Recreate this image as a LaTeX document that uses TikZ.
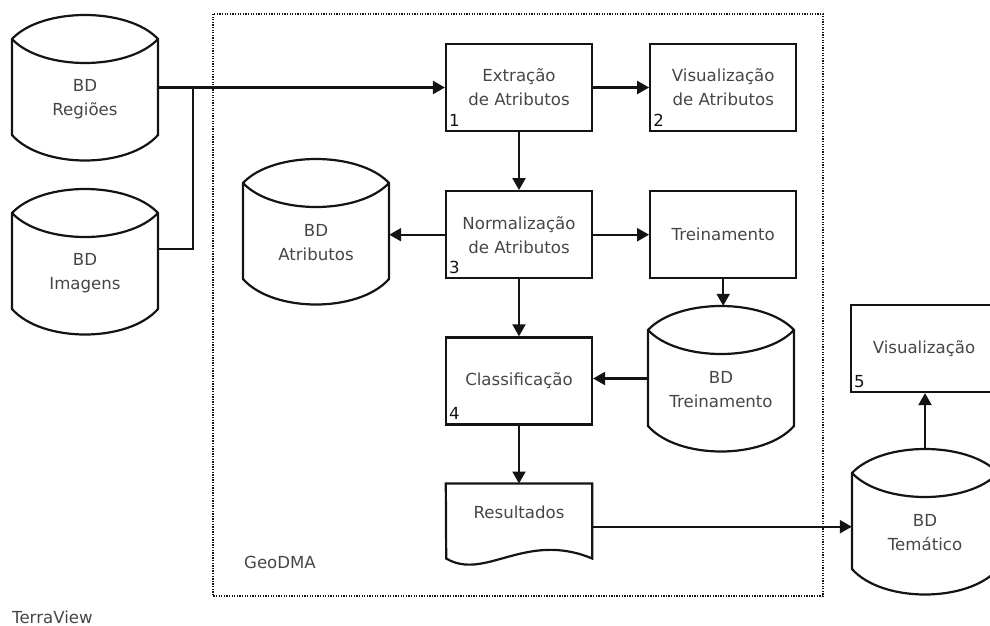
\documentclass[tikz,border=0pt]{standalone}
\usepackage{fontspec}
\setmainfont{DejaVu Sans}
\usetikzlibrary{arrows.meta,positioning}
\definecolor{TextGray}{RGB}{70,70,70}
\definecolor{LineDark}{RGB}{20,20,20}

% cylinder: name, left x, corner y, text
\newcommand{\bdcyl}[4]{%
  \draw[outline] (#2,#3) .. controls +(30,-32) and +(-30,-32) .. ++(146,0) -- ++(0,96)
    .. controls +(-30,34) and +(30,34) .. ++(-146,0) -- cycle;
  \draw[outline] (#2,#3) .. controls +(30,32) and +(-30,32) .. ++(146,0);
  \node[cylarea] (#1) at ({#2+73},{#3+48.5}) {};
  \node[txt] (#1-t) at ({#2+73},{#3+60}) {#4};
}

\begin{document}
\begin{tikzpicture}[x=1pt,y=-1pt,>={Triangle[length=12pt,width=13pt]},
  txt/.style={text=TextGray,font=\fontsize{16.6}{24}\selectfont,align=center,inner sep=0pt},
  num/.style={text=LineDark,font=\fontsize{16.6}{20}\selectfont,inner sep=0pt,anchor=base west},
  proc/.style={txt,draw=LineDark,line width=2.2pt,minimum width=146pt,minimum height=87pt},
  outline/.style={draw=LineDark,line width=2.2pt,fill=white},
  cylarea/.style={minimum width=146pt,minimum height=145pt,inner sep=0pt},
  docarea/.style={minimum width=146pt,minimum height=86pt,inner sep=0pt},
  link/.style={draw=LineDark,line width=2.2pt},
  frame/.style={draw=LineDark,line width=1.7pt,dash pattern=on 1.3pt off 1.3pt}]
  \useasboundingbox (0,0) rectangle (990,626);
  \clip (0,0) rectangle (990,626);

  % GeoDMA frame
  \draw[frame] (213,14) rectangle (823,596);
  \node[txt] (geodma) at (280,562) {GeoDMA};
  \node[txt,anchor=base west] (terraview) at (12,623) {TerraView};

  % databases
  \bdcyl{reg}{12}{39}{BD\\Regiões}
  \bdcyl{img}{12}{213}{BD\\Imagens}
  \bdcyl{atr}{243}{183}{BD\\Atributos}
  \bdcyl{bdt}{648}{330}{BD\\Treinamento}
  \bdcyl{tem}{852}{473}{BD\\Temático}

  % processes
  \node[proc] (ext) at (519,87.5) {Extração\\de Atributos};
  \node[proc, right=56pt of ext] (vis) {Visualização\\de Atributos};
  \node[proc, below=58pt of ext] (norm) {Normalização\\de Atributos};
  \node[proc, right=56pt of norm] (trn) {Treinamento};
  \node[proc, below=57pt of norm] (cls) {Classificação};
  \node[proc] (vis5) at (924,348.5) {Visualização};
  \node[num] (n1) at ([shift={(4pt,6pt)}]ext.south west) {1};
  \node[num] (n2) at ([shift={(4pt,6pt)}]vis.south west) {2};
  \node[num] (n3) at ([shift={(4pt,6pt)}]norm.south west) {3};
  \node[num] (n4) at ([shift={(4pt,6pt)}]cls.south west) {4};
  \node[num] (n5) at ([shift={(4pt,6pt)}]vis5.south west) {5};

  % results document
  \node[docarea, below=58pt of cls] (res) {};
  \draw[outline] (res.north west) -- (res.north east) -- ++(0,75)
    .. controls +(-67,-28) and +(39,23) .. ++(-146,0) -- cycle;
  \node[txt] (res-t) at ([yshift=-29pt]res.north) {Resultados};

  % connectors
  \coordinate (jn) at (193,87.5);
  \draw[link] ([yshift=12.5pt]img.east) -| (jn);
  \draw[link,->] (reg.east) -- (ext.west);
  \draw[link,->] (ext.east) -- (vis.west);
  \draw[link,->] (ext.south) -- (norm.north);
  \draw[link,->] (norm.west) -- (norm.west -| atr.east);
  \draw[link,->] (norm.east) -- (trn.west);
  \draw[link,->] (trn.south) -- (trn.south |- bdt.north);
  \draw[link,->] (norm.south) -- (cls.north);
  \draw[link,->] (bdt.west) -- (bdt.west -| cls.east);
  \draw[link,->] (cls.south) -- (res.north);
  \draw[link,->] (res.east) -- (res.east -| tem.west);
  \draw[link,->] (tem.north) -- (tem.north |- vis5.south);
\end{tikzpicture}
\end{document}
